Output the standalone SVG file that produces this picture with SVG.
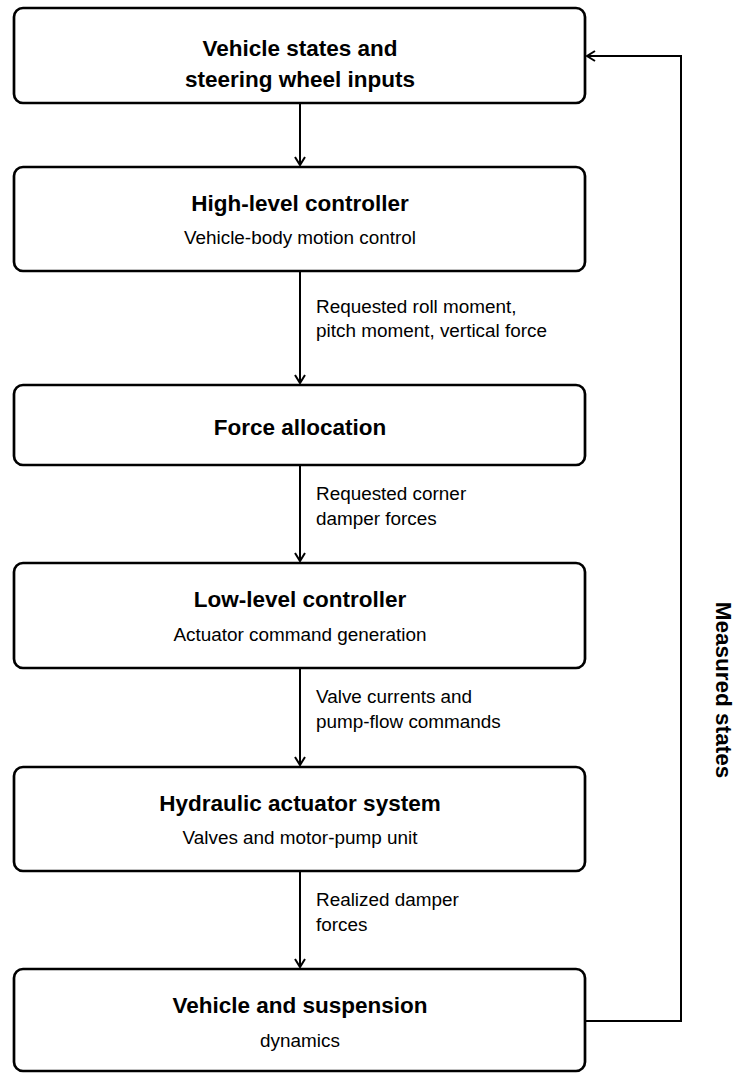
<svg xmlns="http://www.w3.org/2000/svg" width="735" height="1073" viewBox="0 0 735 1073">
<defs>
<style>
.box{fill:#fff;stroke:#000;stroke-width:2.7}
.t{font-family:"Liberation Sans",Arial,sans-serif;font-weight:bold;font-size:22.5px;text-anchor:middle;fill:#000}
.s{font-family:"Liberation Sans",Arial,sans-serif;font-size:18.9px;text-anchor:middle;fill:#000}
.l{font-family:"Liberation Sans",Arial,sans-serif;font-size:18.9px;fill:#000}
.c{fill:none;stroke:#000;stroke-width:2}
</style>
<marker id="ah" viewBox="0 0 12 12" refX="10" refY="6" markerWidth="12" markerHeight="12" markerUnits="userSpaceOnUse" orient="auto">
<path d="M2,1 L10,6 L2,11" fill="none" stroke="#000" stroke-width="2"/>
</marker>
</defs>
<rect width="735" height="1073" fill="#fff"/>
<g id="connectors">
<line class="c" x1="300" y1="103" x2="300" y2="165" marker-end="url(#ah)"/>
<line class="c" x1="300" y1="271" x2="300" y2="383" marker-end="url(#ah)"/>
<line class="c" x1="300" y1="465" x2="300" y2="561" marker-end="url(#ah)"/>
<line class="c" x1="300" y1="668" x2="300" y2="765" marker-end="url(#ah)"/>
<line class="c" x1="300" y1="871" x2="300" y2="967" marker-end="url(#ah)"/>
<path class="c" d="M586,1021 H681 V56 H587" marker-end="url(#ah)"/>
<text class="l" x="316" y="313">Requested roll moment,</text>
<text class="l" x="316" y="337">pitch moment, vertical force</text>
<text class="l" x="316" y="500">Requested corner</text>
<text class="l" x="316" y="525">damper forces</text>
<text class="l" x="316" y="703">Valve currents and</text>
<text class="l" x="316" y="728">pump-flow commands</text>
<text class="l" x="316" y="906">Realized damper</text>
<text class="l" x="316" y="931">forces</text>
<text class="t" transform="translate(716,690) rotate(90)" x="0" y="0">Measured states</text>
</g>
<g id="n1">
<rect class="box" x="14" y="8" width="571" height="95" rx="9"/>
<text class="t" x="300" y="56">Vehicle states and</text>
<text class="t" x="300" y="87">steering wheel inputs</text>
</g>
<g id="n2">
<rect class="box" x="14" y="167" width="571" height="104" rx="9"/>
<text class="t" x="300" y="211">High-level controller</text>
<text class="s" x="300" y="244">Vehicle-body motion control</text>
</g>
<g id="n3">
<rect class="box" x="14" y="385" width="571" height="80" rx="9"/>
<text class="t" x="300" y="435">Force allocation</text>
</g>
<g id="n4">
<rect class="box" x="14" y="563" width="571" height="105" rx="9"/>
<text class="t" x="300" y="607">Low-level controller</text>
<text class="s" x="300" y="641">Actuator command generation</text>
</g>
<g id="n5">
<rect class="box" x="14" y="767" width="571" height="104" rx="9"/>
<text class="t" x="300" y="811">Hydraulic actuator system</text>
<text class="s" x="300" y="844">Valves and motor-pump unit</text>
</g>
<g id="n6">
<rect class="box" x="14" y="969" width="571" height="102" rx="9"/>
<text class="t" x="300" y="1013">Vehicle and suspension</text>
<text class="s" x="300" y="1047">dynamics</text>
</g>
</svg>
